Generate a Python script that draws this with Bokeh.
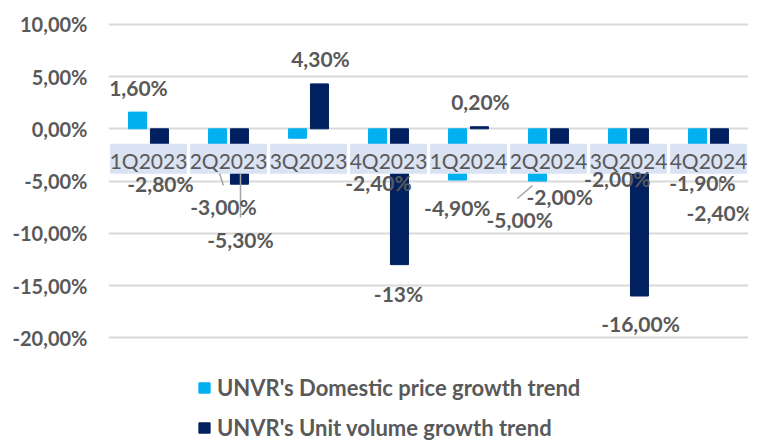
import numpy as np
from bokeh.plotting import figure
from bokeh.models import Range1d, FixedTicker, Legend, LegendItem
from bokeh.core.properties import value
from bokeh.embed import file_html
from bokeh.resources import INLINE

# ---- data ----
categories = ["1Q2023", "2Q2023", "3Q2023", "4Q2023", "1Q2024", "2Q2024", "3Q2024", "4Q2024"]
price_growth = [1.6, -3.0, -0.9, -2.4, -4.9, -5.0, -2.0, -1.9]
volume_growth = [-2.8, -5.3, 4.3, -13.0, 0.2, -2.0, -16.0, -2.4]
series_names = ["UNVR's Domestic price growth trend", "UNVR's Unit volume growth trend"]

tick_values = [-20, -15, -10, -5, 0, 5, 10]
tick_labels = ["-20,00%", "-15,00%", "-10,00%", "-5,00%", "0,00%", "5,00%", "10,00%"]

# data labels (text, x in category units, y in % units)
label_text = ["1,60%", "-2,80%", "-3,00%", "-5,30%", "4,30%", "-2,40%", "-13%", "0,20%",
              "-4,90%", "-5,00%", "-2,00%", "-2,00%", "-16,00%", "-1,90%", "-2,40%"]
label_x = [0.375, 0.65, 1.4375, 1.65, 2.65, 3.375, 3.625, 4.65,
           4.36, 5.14, 5.64, 6.36, 6.65, 7.425, 7.64]
label_y = [3.95, -5.23, -7.44, -10.6, 6.73, -5.14, -15.76, 2.61,
           -7.53, -8.68, -6.48, -4.76, -18.63, -5.14, -8.01]

# leader lines (x0, y0, x1, y1)
leader_x0 = [1.3875, 1.65, 5.11, 7.64]
leader_y0 = [-4.28, -4.28, -6.67, -4.77]
leader_x1 = [1.4375, 1.65, 5.30, 7.64]
leader_y1 = [-5.43, -8.49, -5.43, -5.90]

# ---- styles ----
CYAN = "#00B0F0"
NAVY = "#002060"
GRAY_TEXT = "#595959"
BOX = "#DAE3F3"
FONT = "Lato"

n = len(categories)
xc = np.arange(n) + 0.5

p = figure(width=757, height=442, output_backend="svg", toolbar_location=None,
           x_range=Range1d(0, n), y_range=Range1d(-30.02, 12.28),
           min_border_left=108, min_border_right=9, min_border_top=0, min_border_bottom=0)
p.outline_line_color = None
p.xaxis.visible = False
p.xgrid.grid_line_color = None

p.yaxis.ticker = FixedTicker(ticks=tick_values)
p.yaxis.major_label_overrides = {v: l for v, l in zip(tick_values, tick_labels)}
p.yaxis.axis_line_color = None
p.yaxis.major_tick_line_color = None
p.yaxis.minor_tick_line_color = None
p.yaxis.major_tick_out = 0
p.yaxis.major_label_standoff = 21
p.yaxis.major_label_text_font = FONT
p.yaxis.major_label_text_font_style = "bold"
p.yaxis.major_label_text_font_size = "20px"
p.yaxis.major_label_text_color = GRAY_TEXT
p.ygrid.ticker = FixedTicker(ticks=tick_values)
p.ygrid.grid_line_color = "#D9D9D9"
p.ygrid.grid_line_width = 2

r1 = p.vbar(x=xc - 0.137, top=price_growth, bottom=0, width=0.225, color=CYAN)
r2 = p.vbar(x=xc + 0.137, top=volume_growth, bottom=0, width=0.225, color=NAVY)

# category label boxes at the zero line
p.quad(left=xc - 0.48, right=xc + 0.48, top=-1.43, bottom=-4.3, color=BOX, line_color=None)
p.text(x=xc, y=[-2.99] * n, text=categories, text_align="center", text_baseline="middle",
       text_font=value(FONT), text_font_size="21px", text_color=GRAY_TEXT)

p.segment(x0=leader_x0, y0=leader_y0, x1=leader_x1, y1=leader_y1, line_color="#A6A6A6", line_width=1.5)

p.text(x=label_x, y=label_y, text=label_text, text_align="center", text_baseline="middle",
       text_font=value(FONT), text_font_style="bold", text_font_size="21px", text_color=GRAY_TEXT)

legend = Legend(items=[LegendItem(label=series_names[0], renderers=[r1]),
                       LegendItem(label=series_names[1], renderers=[r2])],
                location=(89, 1), orientation="vertical",
                glyph_width=14, glyph_height=13, label_height=13, spacing=13,
                padding=0, margin=0, label_standoff=6,
                label_text_font=FONT, label_text_font_style="bold", label_text_font_size="22px",
                label_text_color=GRAY_TEXT,
                background_fill_alpha=0, border_line_alpha=0)
p.add_layout(legend, "center")

open("out.html", "w").write(file_html(p, INLINE))
